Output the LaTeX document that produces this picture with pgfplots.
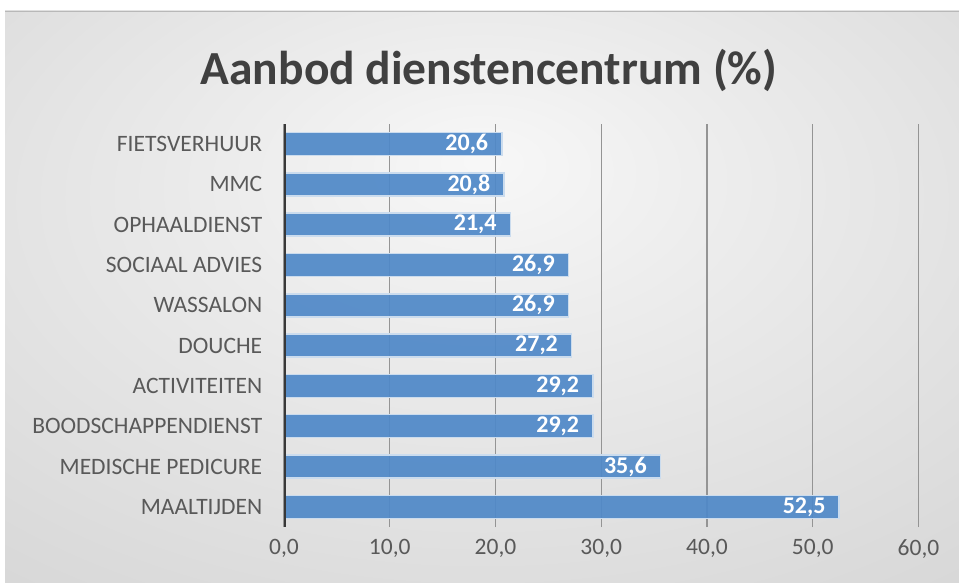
\documentclass[border=0pt]{standalone}
\usepackage{pgfplots}
\pgfplotsset{compat=1.18}
\usepackage{fontspec}
\setmainfont{Carlito}
\definecolor{barblue}{HTML}{5089C8}
\definecolor{lbl}{HTML}{595959}
\definecolor{ttl}{HTML}{404040}
\pgfdeclareradialshading{bgshade}{\pgfpoint{0bp}{12bp}}{color(0bp)=(white!97!black); color(12bp)=(white!93!black); color(35bp)=(white!86!black); color(60bp)=(white!79!black); color(80bp)=(white!77!black)}
\begin{document}
\begin{tikzpicture}
\fill[white] (0bp,0bp) rectangle (959bp,583bp);
\useasboundingbox (0bp,0bp) rectangle (959bp,583bp);
\shade[shading=bgshade] (5bp,0bp) rectangle (959bp,572bp);
\draw[black!28, line width=1bp] (5bp,571.5bp) -- (959bp,571.5bp);
\node[font=\bfseries\fontsize{47.5bp}{52bp}\selectfont, text=ttl] at (489bp,513bp) {Aanbod dienstencentrum (\%)};
\begin{axis}[
  at={(284bp,56bp)}, anchor=south west,
  scale only axis, width=634.5bp, height=403bp,
  xbar, bar width=23bp,
  xmin=0, xmax=60, ymin=-0.5, ymax=9.5,
  xtick={0,10,...,60}, ytick={0,...,9},
  yticklabels={MAALTIJDEN,MEDISCHE PEDICURE,BOODSCHAPPENDIENST,ACTIVITEITEN,DOUCHE,WASSALON,SOCIAAL ADVIES,OPHAALDIENST,MMC,FIETSVERHUUR},
  axis y line*=left, axis x line*=bottom,
  x axis line style={draw=none},
  y axis line style={draw=none},
  xtick style={draw=none}, ytick style={draw=none},
  xmajorgrids, major grid style={draw=black!42, line width=1.1bp},
  /pgf/number format/assume math mode=true,
  /pgf/number format/.cd, fixed, fixed zerofill, precision=1, use comma, 1000 sep={},
  /pgfplots/.cd,
  ticklabel style={font=\fontsize{23.5bp}{28bp}\selectfont, text=lbl},
  yticklabel style={xshift=-14bp},
  xticklabel style={yshift=-9bp},
  nodes near coords,
  every node near coord/.append style={anchor=east, xshift=-12bp, inner sep=1bp, text=white, font=\bfseries\fontsize{24bp}{28bp}\selectfont},
]
\addplot[fill=barblue, fill opacity=0.93, draw=white!70!barblue, line width=1.5bp, text opacity=1] coordinates {
(52.5,0) (35.6,1) (29.2,2) (29.2,3) (27.2,4) (26.9,5) (26.9,6) (21.4,7) (20.8,8) (20.6,9)
};
\draw[black!78, line width=3bp] (axis cs:0,-0.5) -- (axis cs:0,9.5);
\end{axis}
\end{tikzpicture}
\end{document}
